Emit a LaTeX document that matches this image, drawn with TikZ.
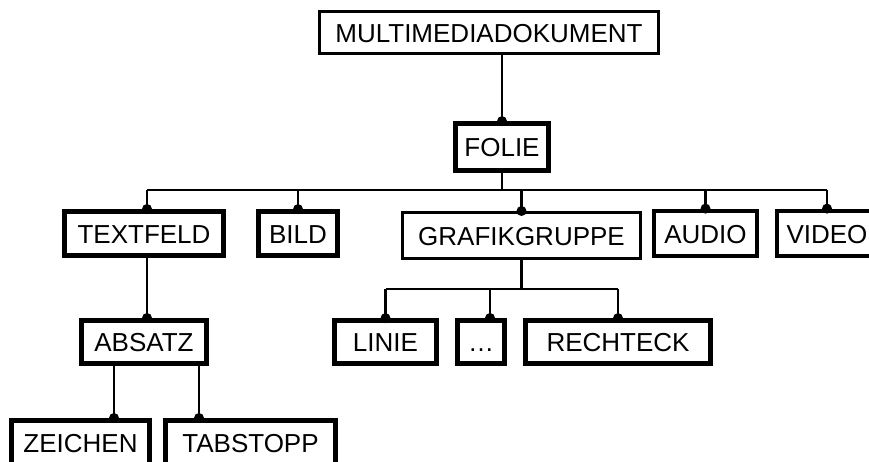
\documentclass[tikz,border=0pt]{standalone}
\usepackage{fontspec}
\setmainfont{Liberation Sans}
\begin{document}
\begin{tikzpicture}[x=1pt,y=-1pt,
  box/.style={draw=black, fill=white, inner sep=0pt, text height=19pt, text depth=0pt,
    font=\fontsize{26}{29}\selectfont},
  thickbox/.style={box, line width=4.8pt},
  thinbox/.style={box, line width=3pt},
  conn/.style={draw=black, line width=2.8pt},
  bus/.style={draw=black, line width=2.2pt},
  jdot/.style={fill=black, circle, inner sep=0pt, minimum size=10pt}]
\useasboundingbox (0,0) rectangle (869,461);
\clip (0,0) rectangle (869,461);

% nodes
\node[thinbox, minimum width=339pt, minimum height=42pt] (mm) at (489,32.5) {MULTIMEDIADOKUMENT};
\node[thickbox, minimum width=93pt, minimum height=47pt] (folie) at (502,147) {FOLIE};

\node[thickbox, minimum width=159pt, minimum height=44pt] (textfeld) at (144,233.5) {TEXTFELD};
\node[thickbox, minimum width=79pt, minimum height=44pt] (bild) at (298,233.5) {BILD};
\node[thinbox, minimum width=238pt, minimum height=46pt] (grafik) at (521.5,235.5) {GRAFIKGRUPPE};
\node[thickbox, minimum width=103pt, minimum height=45pt] (audio) at (705.5,233.5) {AUDIO};
\node[thickbox, minimum width=100pt, minimum height=45pt] (video) at (827,233.5) {VIDEO};

\node[thickbox, minimum width=125pt, minimum height=43pt] (absatz) at (144,342) {ABSATZ};
\node[thickbox, minimum width=102pt, minimum height=43pt] (linie) at (385.5,342) {LINIE};
\node[thickbox, minimum width=47pt, minimum height=43pt] (dots) at (481,342) {\dots};
\node[thickbox, minimum width=185pt, minimum height=43pt] (rechteck) at (618,342) {RECHTECK};

\node[thickbox, minimum width=138pt, minimum height=45pt] (zeichen) at (80.5,443) {ZEICHEN};
\node[thickbox, minimum width=170pt, minimum height=45pt] (tabstopp) at (250.5,443) {TABSTOPP};

% connector coordinates
\coordinate (busy) at (0,190);
\coordinate (tfin) at (147,209);
\coordinate (ggy) at (0,289);
\coordinate (dotin) at (490,318);
\coordinate (zin) at (114,418);
\coordinate (tin) at (199,418);
\coordinate (ain) at (147,318);

% MULTIMEDIADOKUMENT -> FOLIE
\draw[conn] (mm.south -| folie.north) -- (folie.north);
\node[jdot] (d0) at (folie.north) {};

% FOLIE bus
\draw[conn] (folie.south) -- (folie.south |- busy);
\draw[bus] (tfin |- busy) -- (video.north |- busy);
\draw[bus] (tfin |- busy) -- (tfin);
\draw[bus] (bild.north |- busy) -- (bild.north);
\draw[bus] (grafik.north |- busy) -- (grafik.north);
\draw[bus] (audio.north |- busy) -- (audio.north);
\draw[bus] (video.north |- busy) -- (video.north);
\node[jdot] (d1) at (tfin) {};
\node[jdot] (d2) at (bild.north) {};
\node[jdot] (d3) at (grafik.north) {};
\node[jdot] (d4) at (audio.north) {};
\node[jdot] (d5) at (video.north) {};

% TEXTFELD -> ABSATZ
\draw[conn] (textfeld.south -| ain) -- (ain);
\node[jdot] (d6) at (ain) {};

% ABSATZ -> ZEICHEN, TABSTOPP
\draw[conn] (absatz.south -| zin) -- (zin);
\draw[conn] (absatz.south -| tin) -- (tin);
\node[jdot] (d7) at (zin) {};
\node[jdot] (d8) at (tin) {};

% GRAFIKGRUPPE -> LINIE, ..., RECHTECK
\draw[conn] (grafik.south) -- (grafik.south |- ggy);
\draw[conn] (linie.north |- ggy) -- (rechteck.north |- ggy);
\draw[conn] (linie.north |- ggy) -- (linie.north);
\draw[conn] (dotin |- ggy) -- (dotin);
\draw[conn] (rechteck.north |- ggy) -- (rechteck.north);
\node[jdot] (d9) at (linie.north) {};
\node[jdot] (d10) at (dotin) {};
\node[jdot] (d11) at (rechteck.north) {};
\end{tikzpicture}
\end{document}
